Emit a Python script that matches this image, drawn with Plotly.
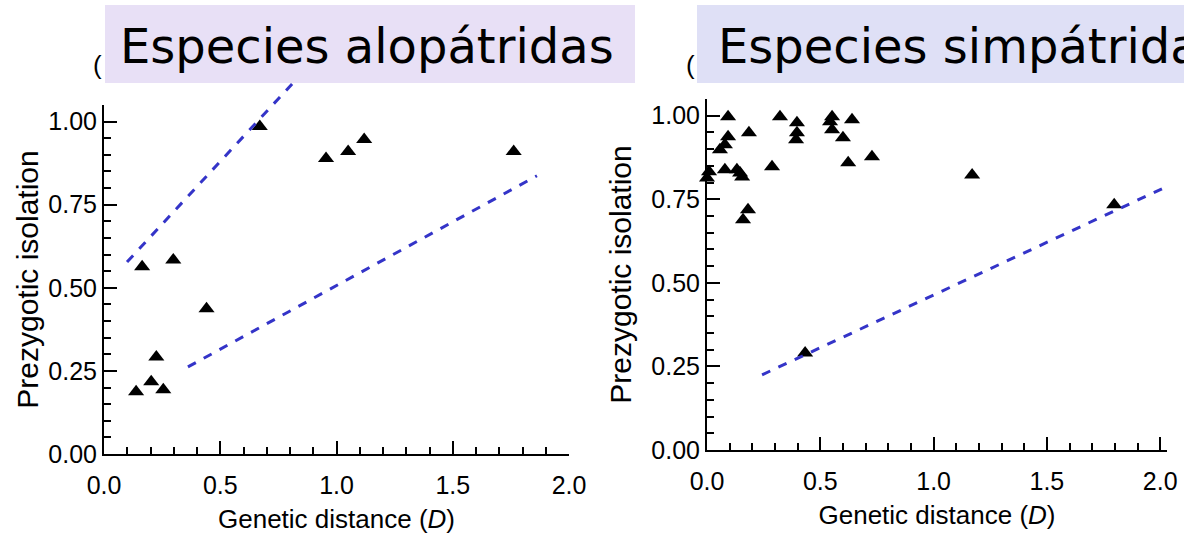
import plotly.graph_objects as go

# ---- data ----
allo_D = [0.138, 0.164, 0.203, 0.225, 0.255, 0.298, 0.441, 0.670, 0.955, 1.050, 1.119, 1.762]
allo_iso = [0.187, 0.563, 0.217, 0.292, 0.193, 0.584, 0.437, 0.985, 0.889, 0.910, 0.946, 0.910]

sym_D = [0.093, 0.000, 0.009, 0.057, 0.079, 0.093, 0.079, 0.132, 0.146, 0.155, 0.159, 0.181,
         0.185, 0.287, 0.322, 0.397, 0.397, 0.393, 0.552, 0.543, 0.552, 0.600, 0.640, 0.623,
         0.728, 0.433, 1.170, 1.797]
sym_iso = [0.997, 0.814, 0.832, 0.898, 0.913, 0.937, 0.838, 0.838, 0.829, 0.817, 0.689, 0.719,
           0.949, 0.847, 0.997, 0.979, 0.949, 0.928, 0.997, 0.982, 0.958, 0.934, 0.988, 0.859,
           0.877, 0.290, 0.823, 0.734]

allo_upper_D = [0.099, 0.809]
allo_upper_iso = [0.578, 1.114]
allo_lower_D = [0.361, 1.862]
allo_lower_iso = [0.262, 0.837]
sym_line_D = [0.243, 2.026]
sym_line_iso = [0.225, 0.787]

x_ticks = [0.0, 0.5, 1.0, 1.5, 2.0]
y_ticks = [0.0, 0.25, 0.5, 0.75, 1.0]

titles = ["Especies alopátridas", "Especies simpátridas"]
x_title = "Genetic distance (<i>D</i>)"
y_title = "Prezygotic isolation"

W, H = 1184, 539
def px(x):
    return x / W
def py(y):
    return 1 - y / H

marker = dict(symbol="triangle-up", size=14, color="black")
dash_line = dict(color="#3434c8", width=3, dash="dash")

fig = go.Figure()
fig.add_trace(go.Scatter(x=allo_D, y=allo_iso, mode="markers", marker=marker,
                         xaxis="x", yaxis="y", cliponaxis=False))
fig.add_trace(go.Scatter(x=allo_lower_D, y=allo_lower_iso, mode="lines", line=dash_line,
                         xaxis="x", yaxis="y"))
fig.add_trace(go.Scatter(x=allo_upper_D, y=allo_upper_iso, mode="lines", line=dash_line,
                         xaxis="x3", yaxis="y3"))
fig.add_trace(go.Scatter(x=sym_D, y=sym_iso, mode="markers", marker=marker,
                         xaxis="x2", yaxis="y2", cliponaxis=False))
fig.add_trace(go.Scatter(x=sym_line_D, y=sym_line_iso, mode="lines", line=dash_line,
                         xaxis="x2", yaxis="y2"))

tickfont = dict(family="Liberation Sans", size=25, color="black")
titlefont = dict(family="Liberation Sans", size=26, color="black")

def xax(domain, rng, anchor, standoff):
    return dict(domain=domain, range=rng, tickvals=x_ticks, tickformat=".1f", anchor=anchor,
                ticks="inside", ticklen=13, tickwidth=2, tickcolor="black",
                showline=True, linecolor="black", linewidth=2, showgrid=False,
                zeroline=False, tickfont=tickfont, automargin=False, ticklabelstandoff=8,
                minor=dict(dtick=0.1, ticks="inside", ticklen=7, tickwidth=2, tickcolor="black"),
                title=dict(text=x_title, font=titlefont, standoff=standoff))

def yax(domain, rng, anchor, standoff):
    return dict(domain=domain, range=rng, tickvals=y_ticks, tickformat=".2f",
                ticks="inside", ticklen=13, tickwidth=2, tickcolor="black",
                showline=True, linecolor="black", linewidth=2, showgrid=False,
                zeroline=False, tickfont=tickfont, anchor=anchor, automargin=False,
                minor=dict(dtick=0.05, ticks="inside", ticklen=7, tickwidth=2, tickcolor="black"),
                title=dict(text=y_title, font=dict(family="Liberation Sans", size=30, color="black"),
                           standoff=standoff))

fig.update_layout(
    width=W, height=H, margin=dict(l=0, r=0, t=0, b=0),
    paper_bgcolor="white", plot_bgcolor="rgba(0,0,0,0)", showlegend=False,
    xaxis=xax([px(104), px(569)], [0, 2.0], "y", 12),
    yaxis=yax([py(454), py(105)], [0, 1.05], "x", 1),
    xaxis2=xax([px(707), px(1167)], [0, 2.03], "y2", 12),
    yaxis2=yax([py(450), py(99)], [0, 1.05], "x2", 11),
    xaxis3=dict(domain=[px(104), px(569)], range=[0, 2.0], visible=False, anchor="y3",
                automargin=False),
    yaxis3=dict(domain=[py(454), py(82)], range=[0, 1.12], visible=False, anchor="x3",
                automargin=False),
)

# stray label remnants behind boxes
fig.add_annotation(x=px(104), y=py(65), xref="paper", yref="paper", text="(",
                   showarrow=False, xanchor="right", yanchor="middle",
                   font=dict(family="Liberation Sans", size=26, color="black"))
fig.add_annotation(x=px(697), y=py(65), xref="paper", yref="paper", text="(",
                   showarrow=False, xanchor="right", yanchor="middle",
                   font=dict(family="Liberation Sans", size=26, color="black"))

# title boxes
fig.add_shape(type="rect", xref="paper", yref="paper", x0=px(105), x1=px(635),
              y0=py(83), y1=py(5), fillcolor="#e8e0f6", line=dict(width=0), layer="above")
fig.add_shape(type="rect", xref="paper", yref="paper", x0=px(697), x1=px(1184),
              y0=py(83), y1=py(5), fillcolor="#dfe0f6", line=dict(width=0), layer="above")

fig.add_annotation(x=px(367), y=py(46), xref="paper", yref="paper", text=titles[0],
                   showarrow=False, xanchor="center", yanchor="middle",
                   font=dict(family="DejaVu Sans", size=48, color="black"))
fig.add_annotation(x=px(716), y=py(46), xref="paper", yref="paper", text=titles[1],
                   showarrow=False, xanchor="left", yanchor="middle",
                   font=dict(family="DejaVu Sans", size=48, color="black"))

fig.write_html("out.html")
